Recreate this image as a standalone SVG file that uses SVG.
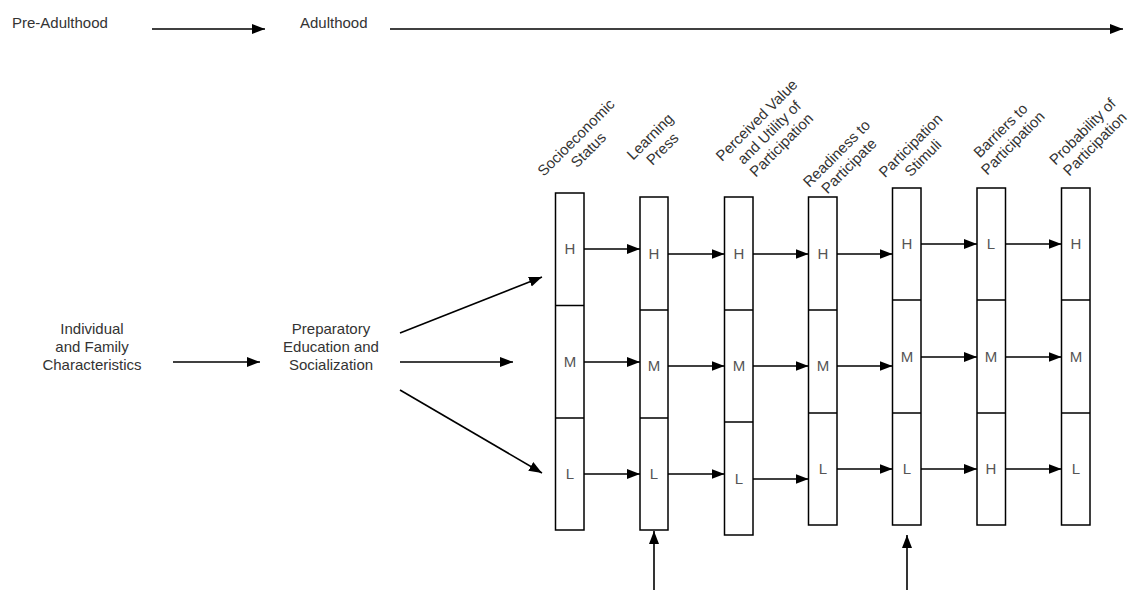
<svg xmlns="http://www.w3.org/2000/svg" width="1132" height="590" viewBox="0 0 1132 590">
<defs>
<style>
text{font-family:"Liberation Sans",Arial,sans-serif;font-size:15px;fill:#333}
.lvl{fill:#555;text-anchor:middle}
.c{text-anchor:middle}
.box{fill:none;stroke:#000;stroke-width:1.5}
.ln{fill:none;stroke:#000;stroke-width:1.6;marker-end:url(#ah)}
</style>
<marker id="ah" markerUnits="userSpaceOnUse" markerWidth="14" markerHeight="11" refX="13" refY="5" orient="auto">
<path d="M0,0 L13,5 L0,10 z" fill="#000"/>
</marker>
</defs>
<rect width="1132" height="590" fill="#fff"/>

<g id="timeline">
<text x="12" y="28">Pre-Adulthood</text>
<text x="300" y="28">Adulthood</text>
</g>

<g id="individual">
<text class="c"><tspan x="92" y="334">Individual</tspan><tspan x="92" y="352">and Family</tspan><tspan x="92" y="370">Characteristics</tspan></text>
</g>
<g id="preparatory">
<text class="c"><tspan x="331" y="334">Preparatory</tspan><tspan x="331" y="352">Education and</tspan><tspan x="331" y="370">Socialization</tspan></text>
</g>

<g id="col1">
<rect class="box" x="555.5" y="193" width="28.5" height="337"/>
<path class="box" d="M555.5,305.5H584M555.5,418H584"/>
<text class="lvl" x="570" y="254">H</text><text class="lvl" x="570" y="367">M</text><text class="lvl" x="570" y="479">L</text>
<g transform="translate(588.5,150) rotate(-45)"><text class="c"><tspan x="0" y="-12.5">Socioeconomic</tspan><tspan x="0" y="5">Status</tspan></text></g>
</g>
<g id="col2">
<rect class="box" x="640" y="197" width="28" height="333"/>
<path class="box" d="M640,310H668M640,418H668"/>
<text class="lvl" x="654" y="259">H</text><text class="lvl" x="654" y="371">M</text><text class="lvl" x="654" y="479">L</text>
<g transform="translate(662.5,149) rotate(-45)"><text class="c"><tspan x="0" y="-12.5">Learning</tspan><tspan x="0" y="5">Press</tspan></text></g>
</g>
<g id="col3">
<rect class="box" x="724.5" y="197" width="28.5" height="338"/>
<path class="box" d="M724.5,310H753M724.5,422H753"/>
<text class="lvl" x="739" y="259">H</text><text class="lvl" x="739" y="371">M</text><text class="lvl" x="739" y="484">L</text>
<g transform="translate(781.5,145) rotate(-45)"><text class="c"><tspan x="0" y="-30">Perceived Value</tspan><tspan x="0" y="-12.5">and Utility of</tspan><tspan x="0" y="5">Participation</tspan></text></g>
</g>
<g id="col4">
<rect class="box" x="808.5" y="197" width="28.5" height="328"/>
<path class="box" d="M808.5,310H837M808.5,413H837"/>
<text class="lvl" x="823" y="259">H</text><text class="lvl" x="823" y="371">M</text><text class="lvl" x="823" y="474">L</text>
<g transform="translate(849,166) rotate(-45)"><text class="c"><tspan x="0" y="-12.5">Readiness to</tspan><tspan x="0" y="5">Participate</tspan></text></g>
</g>
<g id="col5">
<rect class="box" x="892.5" y="188" width="28.5" height="337"/>
<path class="box" d="M892.5,300H921M892.5,413H921"/>
<text class="lvl" x="907" y="249">H</text><text class="lvl" x="907" y="362">M</text><text class="lvl" x="907" y="474">L</text>
<g transform="translate(923,158) rotate(-45)"><text class="c"><tspan x="0" y="-12.5">Participation</tspan><tspan x="0" y="5">Stimuli</tspan></text></g>
</g>
<g id="col6">
<rect class="box" x="977" y="188" width="28.5" height="337"/>
<path class="box" d="M977,300H1005.5M977,413H1005.5"/>
<text class="lvl" x="991" y="249">L</text><text class="lvl" x="991" y="362">M</text><text class="lvl" x="991" y="474">H</text>
<g transform="translate(1013,143) rotate(-45)"><text class="c"><tspan x="0" y="-12.5">Barriers to</tspan><tspan x="0" y="5">Participation</tspan></text></g>
</g>
<g id="col7">
<rect class="box" x="1061.5" y="188" width="28.5" height="337"/>
<path class="box" d="M1061.5,300H1090M1061.5,413H1090"/>
<text class="lvl" x="1076" y="249">H</text><text class="lvl" x="1076" y="362">M</text><text class="lvl" x="1076" y="474">L</text>
<g transform="translate(1095,144) rotate(-45)"><text class="c"><tspan x="0" y="-12.5">Probability of</tspan><tspan x="0" y="5">Participation</tspan></text></g>
</g>

<g id="connectors">
<line class="ln" x1="152" y1="29" x2="265" y2="29"/>
<line class="ln" x1="390" y1="29" x2="1123" y2="29"/>
<line class="ln" x1="173" y1="362" x2="260" y2="362"/>
<line class="ln" x1="400" y1="333" x2="542" y2="277"/>
<line class="ln" x1="400" y1="362" x2="513" y2="362"/>
<line class="ln" x1="400" y1="390" x2="542" y2="473"/>
<line class="ln" x1="584" y1="249" x2="640" y2="249"/>
<line class="ln" x1="584" y1="362" x2="640" y2="362"/>
<line class="ln" x1="584" y1="474" x2="640" y2="474"/>
<line class="ln" x1="668" y1="254" x2="724.5" y2="254"/>
<line class="ln" x1="668" y1="366" x2="724.5" y2="366"/>
<line class="ln" x1="668" y1="474" x2="724.5" y2="474"/>
<line class="ln" x1="753" y1="254" x2="808.5" y2="254"/>
<line class="ln" x1="753" y1="366" x2="808.5" y2="366"/>
<line class="ln" x1="753" y1="479" x2="808.5" y2="479"/>
<line class="ln" x1="837" y1="254" x2="892.5" y2="254"/>
<line class="ln" x1="837" y1="366" x2="892.5" y2="366"/>
<line class="ln" x1="837" y1="469" x2="892.5" y2="469"/>
<line class="ln" x1="921" y1="244" x2="977" y2="244"/>
<line class="ln" x1="921" y1="357" x2="977" y2="357"/>
<line class="ln" x1="921" y1="469" x2="977" y2="469"/>
<line class="ln" x1="1005.5" y1="244" x2="1061.5" y2="244"/>
<line class="ln" x1="1005.5" y1="357" x2="1061.5" y2="357"/>
<line class="ln" x1="1005.5" y1="469" x2="1061.5" y2="469"/>
<line class="ln" x1="654" y1="590" x2="654" y2="531"/>
<line class="ln" x1="907" y1="590" x2="907" y2="535"/>
</g>
</svg>
